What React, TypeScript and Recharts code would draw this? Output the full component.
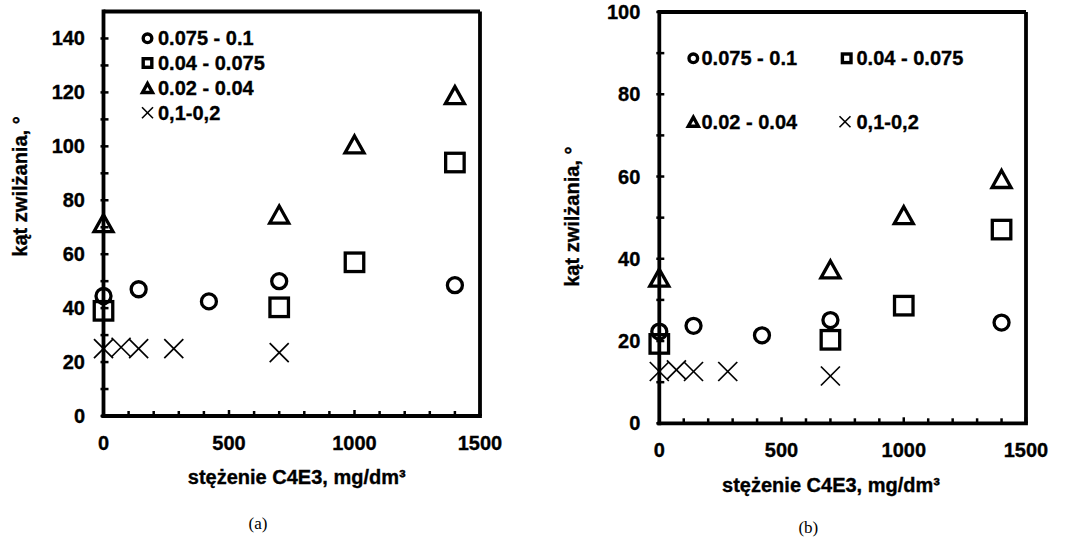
import { ScatterChart, Scatter, XAxis, YAxis, ReferenceLine, Legend, Label } from 'recharts';

// stężenie C4E3 (mg/dm3) dla każdej frakcji
const circleX = [0, 140, 420, 700, 1400];
const squareX = [0, 700, 1000, 1400];
const triangleX = [0, 700, 1000, 1400];
const crossX = [0, 70, 140, 280, 700];

// wykres (a)
const aCircle = [44.5, 47, 42.5, 50, 48.5];
const aSquare = [39, 40.3, 57, 94];
const aTriangle = [71.5, 74.7, 100.7, 119];
const aCross = [25, 25.5, 25, 25, 23.5];

// wykres (b)
const bCircle = [22.3, 23.7, 21.4, 25.1, 24.5];
const bSquare = [19.3, 20.3, 28.6, 47.1];
const bTriangle = [35.4, 37.4, 50.6, 59.4];
const bCross = [12.6, 13, 12.6, 12.6, 11.5];

const seriesNames = ['0.075 - 0.1', '0.04 - 0.075', '0.02 - 0.04', '0,1-0,2'];

const xTicks = [0, 100, 200, 300, 400, 500, 600, 700, 800, 900, 1000, 1100, 1200, 1300, 1400, 1500];
const xLabels = [0, 500, 1000, 1500];
const yTicksA = [0, 10, 20, 30, 40, 50, 60, 70, 80, 90, 100, 110, 120, 130, 140];
const yLabelsA = [0, 20, 40, 60, 80, 100, 120, 140];
const yTicksB = [0, 10, 20, 30, 40, 50, 60, 70, 80, 90, 100];
const yLabelsB = [0, 20, 40, 60, 80, 100];

const FONT = 'Liberation Sans, Arial, sans-serif';
// lekko pogrubiony tekst, jak w oryginale
const txt = { fontSize: 20, fontWeight: 'bold', fontFamily: FONT, fill: '#000', stroke: '#000', strokeWidth: 0.35 } as const;
const zip = (xs: number[], ys: number[]) => xs.map((x, i) => ({ x, y: ys[i] }));

function Circle({ cx, cy, r = 7.5, sw = 3.3 }: any) {
  return <circle cx={cx} cy={cy} r={r} fill="none" stroke="#000" strokeWidth={sw} />;
}
function Square({ cx, cy, s = 18.5, sw = 3.3 }: any) {
  return <rect x={cx - s / 2} y={cy - s / 2} width={s} height={s} fill="none" stroke="#000" strokeWidth={sw} />;
}
function Triangle({ cx, cy, w = 19, h = 17, sw = 3.3 }: any) {
  const d = `M${cx},${cy - h / 2} L${cx + w / 2},${cy + h / 2} L${cx - w / 2},${cy + h / 2} Z`;
  return <path d={d} fill="none" stroke="#000" strokeWidth={sw} />;
}
function Cross({ cx, cy, s = 9.5, sw = 1.7 }: any) {
  return (
    <g stroke="#000" strokeWidth={sw}>
      <line x1={cx - s} y1={cy - s} x2={cx + s} y2={cy + s} />
      <line x1={cx - s} y1={cy + s} x2={cx + s} y2={cy - s} />
    </g>
  );
}

const markers = [Circle, Square, Triangle, Cross];

function makeXTick(labels: number[]) {
  return (props: any) => {
    const { x, y, payload } = props;
    const major = labels.includes(payload.value);
    return (
      <g>
        <line x1={x} x2={x} y1={y} y2={y - (major ? 6 : 5)} stroke="#000" strokeWidth={2.5} />
        {major && (
          <text x={x} y={y + 27 + 7} textAnchor="middle" {...txt}>
            {payload.value}
          </text>
        )}
      </g>
    );
  };
}

function makeYTick(labels: number[], gap: number) {
  return (props: any) => {
    const { x, y, payload } = props;
    const major = labels.includes(payload.value);
    return (
      <g>
        <line x1={x - 3} x2={x + 5} y1={y} y2={y} stroke="#000" strokeWidth={2.5} />
        {major && (
          <text x={x - gap} y={y + 7} textAnchor="end" {...txt}>
            {payload.value}
          </text>
        )}
      </g>
    );
  };
}

// pozycje legendy (w pikselach wykresu)
function makeLegend(items: { mx: number; tx: number; y: number }[]) {
  const small = [
    (cx: number, cy: number) => <Circle cx={cx} cy={cy} r={4.3} sw={3.4} />,
    (cx: number, cy: number) => <Square cx={cx} cy={cy} s={8.6} sw={3.4} />,
    (cx: number, cy: number) => <Triangle cx={cx} cy={cy} w={10} h={9} sw={3.4} />,
    (cx: number, cy: number) => <Cross cx={cx} cy={cy} s={5.5} sw={1.6} />,
  ];
  return () => (
    <svg width={543} height={200} style={{ position: 'absolute', left: 0, top: 0, overflow: 'visible' }}>
      {items.map((it, i) => (
        <g key={i}>
          {small[i](it.mx, it.y)}
          <text x={it.tx} y={it.y + 7} {...txt}>
            {seriesNames[i]}
          </text>
        </g>
      ))}
    </svg>
  );
}

const axisStyle = { stroke: '#000', strokeWidth: 3.8, strokeLinecap: 'square' as const };

function Panel({
  width, ymax, yTicks, yLabels, yAxisWidth, xAxisHeight, top, right, series, legendItems,
  yTitle, xTitle, caption, gap,
}: any) {
  return (
    <ScatterChart width={width} height={538} margin={{ top, right, bottom: 0, left: 0 }}>
      <XAxis
        type="number" dataKey="x" domain={[0, 1500]} ticks={xTicks} interval={0}
        tickSize={0} tickMargin={0} height={xAxisHeight} axisLine={axisStyle} tickLine={false}
        tick={makeXTick(xLabels)}
      >
        <Label
          content={() => (
            <g>
              <text x={xTitle[0]} y={xTitle[1] + 7} textAnchor="middle" {...txt}>
                stężenie C4E3, mg/dm³
              </text>
              <text x={caption[0]} y={caption[1] + 6} textAnchor="middle" fontSize={17} fontFamily="Liberation Serif, Times New Roman, serif" fill="#000">
                {caption[2]}
              </text>
            </g>
          )}
        />
      </XAxis>
      <YAxis
        type="number" dataKey="y" domain={[0, ymax]} ticks={yTicks} interval={0}
        tickSize={0} tickMargin={0} width={yAxisWidth} axisLine={axisStyle} tickLine={false}
        tick={makeYTick(yLabels, gap)}
      >
        <Label
          content={() => (
            <text
              transform={`translate(${yTitle[0]},${yTitle[1]}) rotate(-90)`}
              textAnchor="middle" dy={7} {...txt}
            >
              kąt zwilżania, °
            </text>
          )}
        />
      </YAxis>
      <ReferenceLine y={ymax} stroke="#000" strokeWidth={3.8} />
      <ReferenceLine x={1500} stroke="#000" strokeWidth={3.8} />
      {series.map((data: any, i: number) => {
        const M = markers[i];
        return (
          <Scatter
            key={i}
            name={seriesNames[i]}
            data={data}
            isAnimationActive={false}
            shape={(p: any) => <M cx={p.cx} cy={p.cy} />}
          />
        );
      })}
      <Legend
        layout="horizontal" verticalAlign="middle" align="center"
        wrapperStyle={{ left: 0, top: 0, width: width, height: 0 }}
        content={makeLegend(legendItems)}
      />
    </ScatterChart>
  );
}

export default function App() {
  return (
    <div style={{ position: 'absolute', left: 0, top: 0, width: 1073, height: 538, background: '#fff' }}>
      <div style={{ position: 'absolute', left: 0, top: 0 }}>
        <Panel
          width={530} ymax={150} yTicks={yTicksA} yLabels={yLabelsA}
          yAxisWidth={103.5} xAxisHeight={122} top={11.5} right={50} gap={18.5}
          series={[zip(circleX, aCircle), zip(squareX, aSquare), zip(triangleX, aTriangle), zip(crossX, aCross)]}
          legendItems={[
            { mx: 147.5, tx: 158, y: 38.3 },
            { mx: 147.5, tx: 158, y: 63 },
            { mx: 147.5, tx: 158, y: 88 },
            { mx: 147.5, tx: 158, y: 112.7 },
          ]}
          yTitle={[20, 186.5]} xTitle={[296.7, 476.7]} caption={[258, 523, '(a)']}
        />
      </div>
      <div style={{ position: 'absolute', left: 530, top: 0 }}>
        <Panel
          width={543} ymax={100} yTicks={yTicksB} yLabels={yLabelsB}
          yAxisWidth={129.3} xAxisHeight={114.7} top={12} right={47} gap={19}
          series={[zip(circleX, bCircle), zip(squareX, bSquare), zip(triangleX, bTriangle), zip(crossX, bCross)]}
          legendItems={[
            { mx: 163.3, tx: 171.5, y: 58.3 },
            { mx: 316.7, tx: 326.5, y: 58.3 },
            { mx: 163.3, tx: 171.5, y: 121.7 },
            { mx: 315, tx: 326.5, y: 121.7 },
          ]}
          yTitle={[41.7, 216.7]} xTitle={[301, 485]} caption={[278.3, 526.7, '(b)']}
        />
      </div>
    </div>
  );
}
